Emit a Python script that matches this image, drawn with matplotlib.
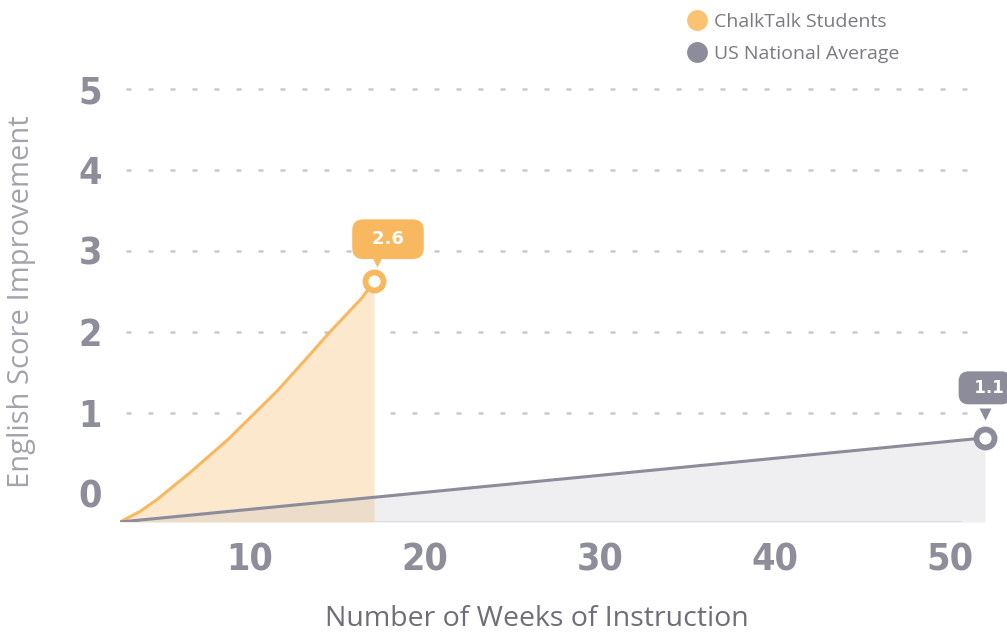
#!/usr/bin/env python3
"""
English score improvement: ChalkTalk students vs US national average.
"""

import matplotlib
matplotlib.use('Agg')
import matplotlib.pyplot as plt
import matplotlib.transforms as mtransforms
from matplotlib.lines import Line2D

plt.rcParams['font.family'] = ['Open Sans', 'DejaVu Sans']

# ----------------------------------------------------------------------------
# Data
# ----------------------------------------------------------------------------
chalk_weeks = [2.57, 3.71, 4.7, 6.57, 8.74, 10.29, 11.6, 13.14, 14.57, 16.4, 17.09]
chalk_score = [-0.35, -0.22, -0.07, 0.26, 0.67, 1.0, 1.28, 1.65, 2.0, 2.42, 2.63]

us_weeks = [2.57, 52.0]
us_score = [-0.35, 0.69]

bubble_labels = ['2.6', '1.1']
y_ticks = [0, 1, 2, 3, 4, 5]
x_ticks = [10, 20, 30, 40, 50]

ORANGE = '#f8b860'
ORANGE_FILL = '#fce8cd'
GRAY = '#8c8c9a'
TICK_COLOR = '#8e8e9a'
GRID_COLOR = '#c9c9d1'

baseline = -0.35

# ----------------------------------------------------------------------------
fig = plt.figure(figsize=(10.07, 6.34), dpi=100)
ax = fig.add_axes([120 / 1007, 1 - 522 / 634, 865 / 1007, 462 / 634])
ax.set_xlim(2.57, 52.0)
ax.set_ylim(baseline, 5.36)

# dashed gridlines
for v in y_ticks[1:]:
    ax.plot([2.9, 51.0], [v, v], color=GRID_COLOR, lw=1.8,
            dashes=(2, 6.8), zorder=1, solid_capstyle='butt')
# faint baseline
ax.plot([2.57, 50.6], [baseline, baseline], color='#dde3ea', lw=1.2, zorder=1)

# fills
ax.fill_between(chalk_weeks, chalk_score, baseline, color=ORANGE_FILL,
                lw=0, zorder=2)
ax.fill_between(us_weeks, us_score, baseline, color='#b0b0c0', alpha=0.2,
                lw=0, zorder=3)

# lines
ax.plot(chalk_weeks, chalk_score, color=ORANGE, lw=2.2, zorder=4,
        solid_capstyle='round', solid_joinstyle='round')
ax.plot(us_weeks, us_score, color=GRAY, lw=2.2, zorder=4,
        solid_capstyle='round')

# end markers (rings)
ax.plot(chalk_weeks[-1], chalk_score[-1], 'o', ms=13, mfc='white',
        mec=ORANGE, mew=4.2, zorder=6, clip_on=False)
ax.plot(us_weeks[-1], us_score[-1], 'o', ms=13, mfc='white',
        mec=GRAY, mew=4.2, zorder=6, clip_on=False)

# value bubbles (the 1.1 bubble runs off the right edge, as in the original)
ends = [(chalk_weeks[-1], chalk_score[-1], ORANGE, (10, 30), (2, 14), 0.6, 13,
         '\u2002{}\u2002'),
        (us_weeks[-1], us_score[-1], GRAY, (0, 36), (0, 17), 0.45, 12,
         '\u2002{}')]
for (xv, yv, col, txt_off, tri_off, pad, fs, fmt), lab in zip(ends, bubble_labels):
    ax.annotate(fmt.format(lab), xy=(xv, yv), xytext=txt_off,
                textcoords='offset points', ha='center', va='center',
                fontsize=fs, fontweight='bold', family='DejaVu Sans',
                color='white', zorder=7, annotation_clip=False,
                bbox=dict(boxstyle=f'round,pad={pad},rounding_size=0.6',
                          fc=col, ec='none'))
    tr = mtransforms.offset_copy(ax.transData, fig=fig, x=tri_off[0],
                                 y=tri_off[1], units='points')
    ax.plot(xv, yv, marker='v', ms=9, color=col, mec='none',
            transform=tr, zorder=7, clip_on=False)

# axes styling
for s in ax.spines.values():
    s.set_visible(False)
ax.set_yticks(y_ticks)
ax.set_xticks(x_ticks)
ax.tick_params(length=0)
ax.tick_params(axis='y', pad=13)
ax.tick_params(axis='x', pad=15)
tick_font = dict(family='DejaVu Sans', fontstretch='condensed',
                 fontweight='bold', fontsize=27, color=TICK_COLOR)
ax.set_yticklabels([str(t) for t in y_ticks], **tick_font)
ax.set_xticklabels([str(t) for t in x_ticks], **tick_font)

fig.text(22 / 1007, 1 - 302 / 634, 'English Score Improvement', rotation=90,
         ha='center', va='center', fontsize=21, color='#a3a3ab')
fig.text(537 / 1007, 1 - 619 / 634, 'Number of Weeks of Instruction',
         ha='center', va='center', fontsize=20.5, color='#6e6e78')

# legend
handles = [Line2D([], [], ls='none', marker='o', ms=15, mfc='#fbc272',
                  mec='none', label='ChalkTalk Students'),
           Line2D([], [], ls='none', marker='o', ms=15, mfc=GRAY,
                  mec='none', label='US National Average')]
fig.legend(handles=handles, loc='upper left',
           bbox_to_anchor=(673 / 1007, 1 - 3 / 634), frameon=False,
           fontsize=14, labelcolor='#7a7a80', handletextpad=0.1,
           labelspacing=0.75, borderpad=0, handlelength=1.5)

plt.savefig('out.png', dpi=100)
plt.close()
